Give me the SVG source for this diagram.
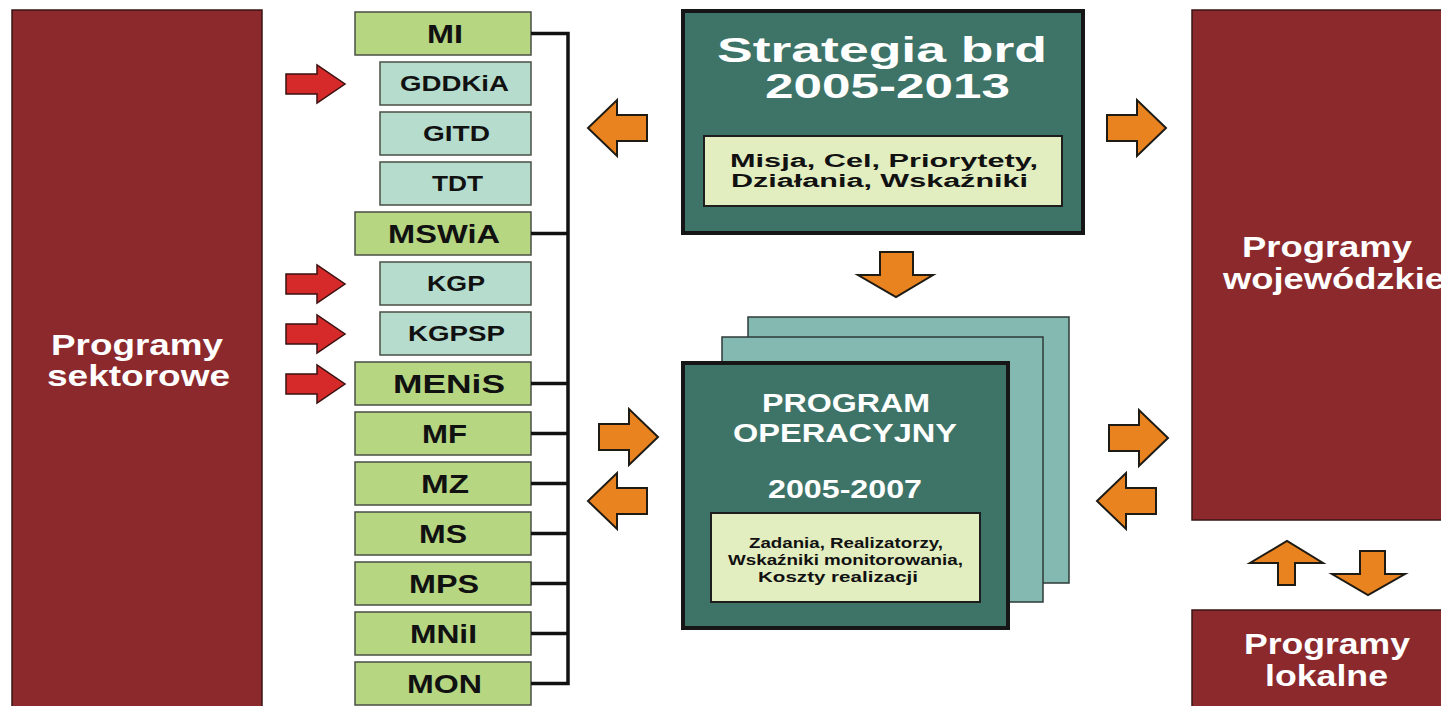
<svg xmlns="http://www.w3.org/2000/svg" width="1441" height="706" viewBox="0 0 1441 706">
<style>
text{font-family:"Liberation Sans",Arial,sans-serif;font-weight:bold}
.red{fill:#8b292d;stroke:#3a1616;stroke-width:1.5}
.g{fill:#b6d682;stroke:#4a4f44;stroke-width:1.5}
.t{fill:#b5dccd;stroke:#4a4f44;stroke-width:1.5}
.lg{font-size:25px;fill:#111}
.lt{font-size:22px;fill:#111}
.w{fill:#fff}
.dark{fill:#3e7468;stroke:#161616;stroke-width:4}
.page{fill:#83b9b1;stroke:#2e3a38;stroke-width:1.5}
.inner{fill:#e3eec0;stroke:#1e1e1e;stroke-width:2}
.ink{fill:#111}
.oa{fill:#e8831f;stroke:#1e1a14;stroke-width:2;stroke-linejoin:miter}
.ra{fill:#d5292a;stroke:#3a1010;stroke-width:1.5}
.br{stroke:#111;stroke-width:3.5;fill:none}
</style>
<defs>
<path id="oh" d="M-30,-13 H0 V-28 L29,0 L0,28 V13 H-30 Z"/>
<path id="rh" d="M286,-10 H317 V-19 L345,0 L317,19 V10 H286 Z"/>
</defs>
<rect width="1441" height="706" fill="#fff"/>

<g id="sektorowe">
<rect class="red" x="12" y="10" width="250" height="710"/>
<text class="w" x="51" y="355" font-size="30" textLength="172" lengthAdjust="spacingAndGlyphs">Programy</text>
<text class="w" x="47" y="386" font-size="30" textLength="183" lengthAdjust="spacingAndGlyphs">sektorowe</text>
</g>

<g id="wojewodzkie">
<rect class="red" x="1192" y="10" width="260" height="510"/>
<text class="w" x="1242" y="257" font-size="29" textLength="170" lengthAdjust="spacingAndGlyphs">Programy</text>
<text class="w" x="1223" y="289" font-size="29" textLength="222" lengthAdjust="spacingAndGlyphs">wojewódzkie</text>
</g>

<g id="lokalne">
<rect class="red" x="1192" y="610" width="260" height="110"/>
<text class="w" x="1244" y="654" font-size="29" textLength="166" lengthAdjust="spacingAndGlyphs">Programy</text>
<text class="w" x="1265" y="686" font-size="29" textLength="123" lengthAdjust="spacingAndGlyphs">lokalne</text>
</g>

<g id="list">
<g id="n-MI"><rect class="g" x="355" y="12" width="176" height="43"/><text class="lg" x="427" y="43" textLength="36" lengthAdjust="spacingAndGlyphs">MI</text></g>
<g id="n-GDDKiA"><rect class="t" x="380" y="62" width="151" height="43"/><text class="lt" x="400" y="91" textLength="109" lengthAdjust="spacingAndGlyphs">GDDKiA</text></g>
<g id="n-GITD"><rect class="t" x="380" y="112" width="151" height="43"/><text class="lt" x="423" y="141" textLength="67" lengthAdjust="spacingAndGlyphs">GITD</text></g>
<g id="n-TDT"><rect class="t" x="380" y="162" width="151" height="43"/><text class="lt" x="432" y="191" textLength="51" lengthAdjust="spacingAndGlyphs">TDT</text></g>
<g id="n-MSWiA"><rect class="g" x="355" y="212" width="176" height="43"/><text class="lg" x="388" y="243" textLength="112" lengthAdjust="spacingAndGlyphs">MSWiA</text></g>
<g id="n-KGP"><rect class="t" x="380" y="262" width="151" height="43"/><text class="lt" x="427" y="291" textLength="58" lengthAdjust="spacingAndGlyphs">KGP</text></g>
<g id="n-KGPSP"><rect class="t" x="380" y="312" width="151" height="43"/><text class="lt" x="408" y="341" textLength="97" lengthAdjust="spacingAndGlyphs">KGPSP</text></g>
<g id="n-MENiS"><rect class="g" x="355" y="362" width="176" height="43"/><text class="lg" x="393" y="393" textLength="112" lengthAdjust="spacingAndGlyphs">MENiS</text></g>
<g id="n-MF"><rect class="g" x="355" y="412" width="176" height="43"/><text class="lg" x="422" y="443" textLength="45" lengthAdjust="spacingAndGlyphs">MF</text></g>
<g id="n-MZ"><rect class="g" x="355" y="462" width="176" height="43"/><text class="lg" x="421" y="493" textLength="48" lengthAdjust="spacingAndGlyphs">MZ</text></g>
<g id="n-MS"><rect class="g" x="355" y="512" width="176" height="43"/><text class="lg" x="419" y="543" textLength="48" lengthAdjust="spacingAndGlyphs">MS</text></g>
<g id="n-MPS"><rect class="g" x="355" y="562" width="176" height="43"/><text class="lg" x="409" y="593" textLength="70" lengthAdjust="spacingAndGlyphs">MPS</text></g>
<g id="n-MNiI"><rect class="g" x="355" y="612" width="176" height="43"/><text class="lg" x="410" y="643" textLength="67" lengthAdjust="spacingAndGlyphs">MNiI</text></g>
<g id="n-MON"><rect class="g" x="355" y="662" width="176" height="43"/><text class="lg" x="407" y="693" textLength="75" lengthAdjust="spacingAndGlyphs">MON</text></g>
</g>

<g id="strategia">
<rect class="dark" x="683" y="11" width="400" height="222"/>
<text class="w" x="717" y="62" font-size="35" textLength="330" lengthAdjust="spacingAndGlyphs">Strategia brd</text>
<text class="w" x="765" y="98" font-size="35" textLength="245" lengthAdjust="spacingAndGlyphs">2005-2013</text>
<rect class="inner" x="704" y="136" width="358" height="70"/>
<text class="ink" x="730" y="167" font-size="18" textLength="308" lengthAdjust="spacingAndGlyphs">Misja, Cel, Priorytety,</text>
<text class="ink" x="731" y="187" font-size="18" textLength="297" lengthAdjust="spacingAndGlyphs">Działania, Wskaźniki</text>
</g>

<g id="program">
<rect class="page" x="748" y="317" width="321" height="266"/>
<rect class="page" x="722" y="337" width="321" height="265"/>
<rect class="dark" x="683" y="363" width="325" height="265"/>
<text class="w" x="762" y="412" font-size="25" textLength="168" lengthAdjust="spacingAndGlyphs">PROGRAM</text>
<text class="w" x="733" y="442" font-size="25" textLength="224" lengthAdjust="spacingAndGlyphs">OPERACYJNY</text>
<text class="w" x="768" y="498" font-size="25" textLength="154" lengthAdjust="spacingAndGlyphs">2005-2007</text>
<rect class="inner" x="711" y="513" width="269" height="89"/>
<text class="ink" x="749" y="548" font-size="15" textLength="194" lengthAdjust="spacingAndGlyphs">Zadania, Realizatorzy,</text>
<text class="ink" x="728" y="565" font-size="15" textLength="235" lengthAdjust="spacingAndGlyphs">Wskaźniki monitorowania,</text>
<text class="ink" x="758" y="582" font-size="15" textLength="160" lengthAdjust="spacingAndGlyphs">Koszty realizacji</text>
</g>

<g id="connectors">
<path class="br" d="M531,33.5 H568 V683.5 H531 M531,233.5 H568 M531,383.5 H568 M531,433.5 H568 M531,483.5 H568 M531,533.5 H568 M531,583.5 H568 M531,633.5 H568"/>
<use href="#rh" class="ra" transform="translate(0,84)"/>
<use href="#rh" class="ra" transform="translate(0,284)"/>
<use href="#rh" class="ra" transform="translate(0,334)"/>
<use href="#rh" class="ra" transform="translate(0,384)"/>
<use href="#oh" class="oa" transform="translate(617,128) rotate(180)"/>
<use href="#oh" class="oa" transform="translate(1137,128)"/>
<use href="#oh" class="oa" transform="translate(629,437)"/>
<use href="#oh" class="oa" transform="translate(617,501) rotate(180)"/>
<use href="#oh" class="oa" transform="translate(1139,438)"/>
<use href="#oh" class="oa" transform="translate(1126,501) rotate(180)"/>
<polygon class="oa" points="880,252 913,252 913,275 933,275 896,297 858,275 880,275"/>
<polygon class="oa" points="1278,585 1295,585 1295,563 1323,563 1287,541 1250,563 1278,563"/>
<polygon class="oa" points="1360,551 1385,551 1385,574 1405,574 1368,595 1332,574 1360,574"/>
</g>
</svg>
